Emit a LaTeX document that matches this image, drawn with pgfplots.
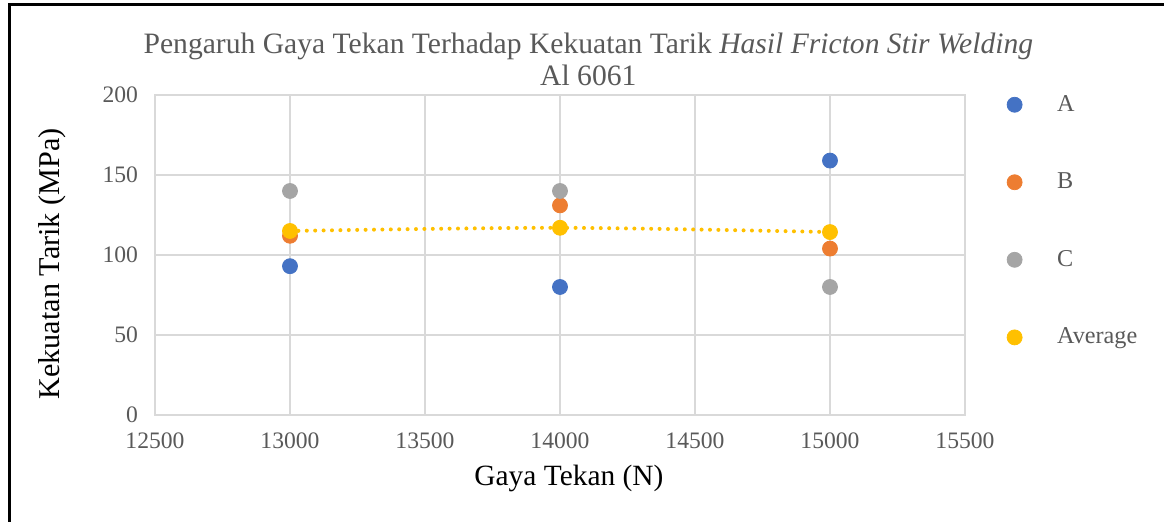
\documentclass[border=0pt]{standalone}
\usepackage{fontspec}
\setmainfont{Liberation Serif}
\usepackage{pgfplots}
\pgfplotsset{compat=1.18}
\definecolor{cA}{HTML}{4472C4}
\definecolor{cB}{HTML}{ED7D31}
\definecolor{cC}{HTML}{A5A5A5}
\definecolor{cAvg}{HTML}{FFC000}
\definecolor{tickgray}{HTML}{595959}
\definecolor{gridgray}{HTML}{D9D9D9}
\begin{document}
\begin{tikzpicture}
\useasboundingbox (0,0) rectangle (582pt,261pt);
\draw[line width=1.5pt] (4.5pt,0pt) -- (4.5pt,258.5pt) -- (582pt,258.5pt);
\begin{axis}[
  at={(77.5pt,53.5pt)}, anchor=south west,
  scale only axis, width=405pt, height=160pt,
  xmin=12500, xmax=15500, ymin=0, ymax=200,
  xtick={12500,13000,...,15500}, ytick={0,50,...,200},
  scaled ticks=false,
  xticklabel style={/pgf/number format/fixed, /pgf/number format/precision=0},
  /pgf/number format/1000 sep={},
  /pgf/number format/assume math mode=true,
  grid=major, grid style={gridgray, line width=1pt},
  axis line style={gridgray, line width=1pt},
  major tick length=0pt, tick style={draw=none},
  ticklabel style={font=\fontsize{11.8}{14}\selectfont, text=tickgray},
  xticklabel style={yshift=-5.5pt},
  yticklabel style={xshift=-5pt},
  title={Pengaruh Gaya Tekan Terhadap Kekuatan Tarik \textit{Hasil Fricton Stir Welding}\\Al 6061},
  title style={at={(axis description cs:0.535,1.075)}, anchor=center, align=center,
    font=\fontsize{14.8}{16}\selectfont, text=tickgray},
  xlabel={Gaya Tekan (N)},
  xlabel style={at={(axis description cs:0.511,-0.197)}, anchor=center, font=\fontsize{14.7}{17}\selectfont},
  ylabel={Kekuatan Tarik (MPa)},
  ylabel style={at={(axis description cs:-0.127,0.472)}, anchor=center, rotate=0, font=\fontsize{15.1}{17}\selectfont},
  legend style={draw=none, fill=none, at={(axis description cs:1.052,0.606)}, anchor=west,
    inner sep=0pt, outer sep=0pt, row sep=25.3pt, column sep=15.5pt,
    font=\fontsize{12.1}{14}\selectfont, text=tickgray},
  legend cell align=left,
  legend image code/.code={\draw[#1] plot coordinates {(0pt,0pt)};},
]
\addplot[only marks, mark=*, mark size=3.75pt, color=cA, mark options={draw=cA, fill=cA}]
  coordinates {(13000,93) (14000,80) (15000,159)};
\addlegendentry{A}
\addplot[only marks, mark=*, mark size=3.75pt, color=cB, mark options={draw=cB, fill=cB}]
  coordinates {(13000,112) (14000,131) (15000,104)};
\addlegendentry{B}
\addplot[only marks, mark=*, mark size=3.75pt, color=cC, mark options={draw=cC, fill=cC}]
  coordinates {(13000,140) (14000,140) (15000,80)};
\addlegendentry{C}
\addplot[forget plot, smooth, cAvg, line width=2pt, line cap=round, dash pattern=on 0pt off 4.2pt]
  coordinates {(13000,115) (14000,117) (15000,114.33)};
\addplot[only marks, mark=*, mark size=3.75pt, color=cAvg, mark options={draw=cAvg, fill=cAvg}]
  coordinates {(13000,115) (14000,117) (15000,114.33)};
\addlegendentry{Average}
\end{axis}
\end{tikzpicture}
\end{document}
